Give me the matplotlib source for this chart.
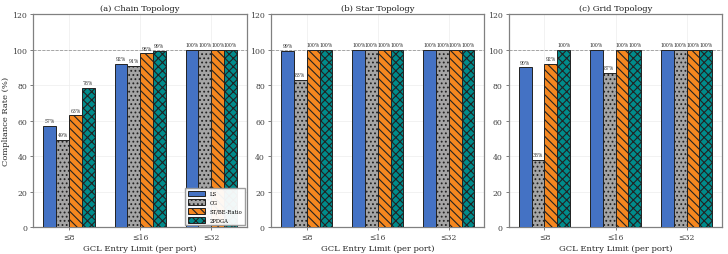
import numpy as np
import matplotlib.pyplot as plt

plt.rcParams['font.family'] = ['DejaVu Serif', 'DejaVu Sans']

# data
limits = ["≤8", "≤16", "≤32"]
methods = ["LS", "CG", "ST/BE-Ratio", "2PDGA"]
titles = ["(a) Chain Topology", "(b) Star Topology", "(c) Grid Topology"]

chain = {"LS": [57, 92, 100], "CG": [49, 91, 100],
         "ST/BE-Ratio": [63, 98, 100], "2PDGA": [78.4, 99.5, 100]}
star = {"LS": [99.4, 100, 100], "CG": [83, 100, 100],
        "ST/BE-Ratio": [100, 100, 100], "2PDGA": [100, 100, 100]}
grid = {"LS": [90, 100, 100], "CG": [38, 87, 100],
        "ST/BE-Ratio": [92, 100, 100], "2PDGA": [100, 100, 100]}
panels = [chain, star, grid]

colors = ["#4472C4", "#A5A5A5", "#F5871F", "#008B8B"]
hatches = ["", "....", "\\\\\\\\", "xxxx"]

plt.rcParams['hatch.linewidth'] = 0.8

fig, axes = plt.subplots(1, 3, figsize=(7.28, 2.55), dpi=100)
fig.subplots_adjust(left=0.046, right=0.992, bottom=0.106, top=0.94, wspace=0.115)

x = np.arange(len(limits))
w = 0.18

for k, (ax, data) in enumerate(zip(axes, panels)):
    for i, m in enumerate(methods):
        vals = data[m]
        pos = x + (i - 1.5) * w
        ax.bar(pos, vals, w, color=colors[i], hatch=hatches[i],
               edgecolor="#222222", linewidth=0.7, label=m, zorder=3)
        for p, v in zip(pos, vals):
            ax.text(p, v + 1.5, f"{int(v)}%", ha="center", va="bottom",
                    fontsize=3.3, color="0.15", zorder=4)
    ax.axhline(100, color="0.6", linestyle="--", linewidth=0.6, zorder=2)
    ax.set_ylim(0, 120)
    ax.set_xticks(x)
    ax.set_xticklabels(limits)
    ax.tick_params(labelsize=5.6, labelcolor="0.25")
    ax.tick_params(length=2.5, width=0.6, color="0.4", pad=2)
    ax.set_xlim(-0.5, 2.5)
    ax.grid(True, color="0.93", linewidth=0.5, zorder=0)
    ax.set_axisbelow(True)
    for s in ax.spines.values():
        s.set_color("0.5")
        s.set_linewidth(0.9)
    ax.set_title(titles[k], fontsize=6.0, pad=3, color="0.1")
    ax.set_xlabel("GCL Entry Limit (per port)", fontsize=6.0, labelpad=2,
                  color="0.15")

axes[0].set_ylabel("Compliance Rate (%)", fontsize=6.0, labelpad=1.5, color="0.15")
axes[0].legend(loc="lower right", fontsize=3.8, framealpha=0.95,
               handlelength=3.2, handleheight=1.2, borderpad=0.5,
               labelspacing=0.65, handletextpad=0.9, fancybox=False,
               edgecolor="0.6", borderaxespad=0.3)

fig.savefig("out.png", dpi=100)
